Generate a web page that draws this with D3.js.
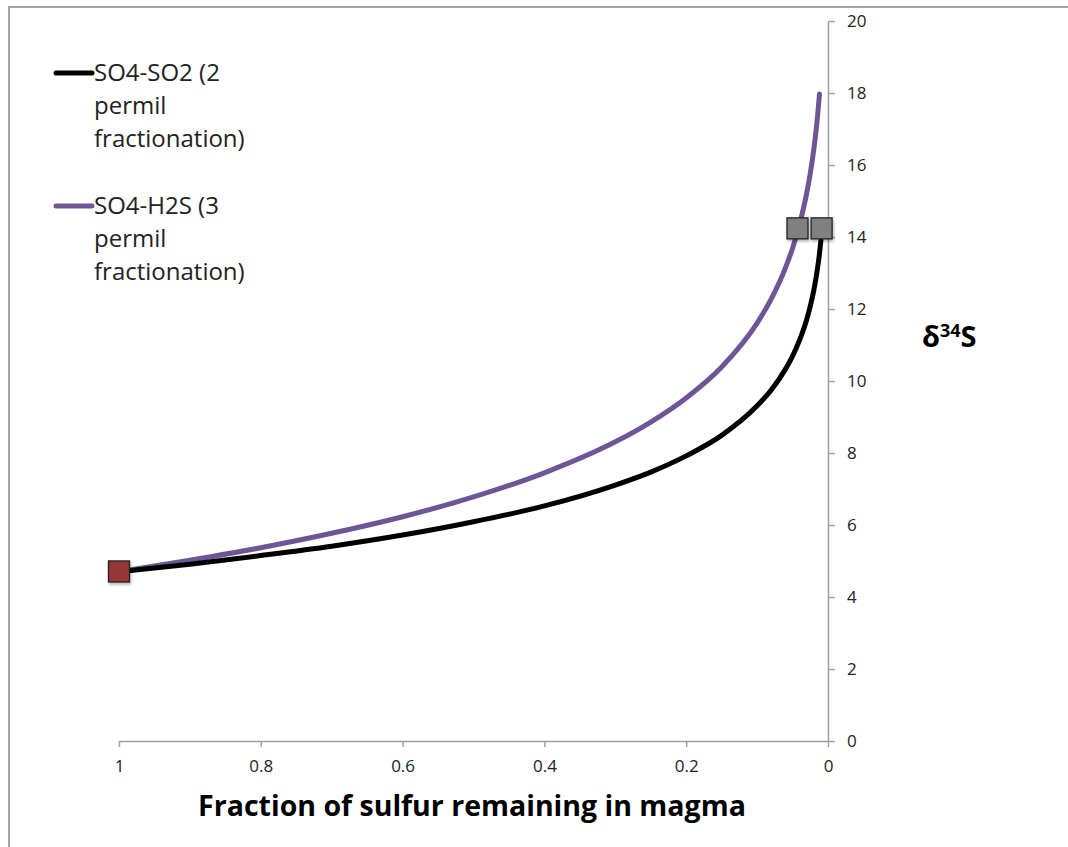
<!DOCTYPE html>
<html><head><meta charset="utf-8">
<script src="https://cdn.jsdelivr.net/npm/d3@7"></script>
<style>body{margin:0;background:#fff}svg{display:block}</style>
</head><body><svg id="c" width="1068" height="847"></svg>
<script>
// Fraction of sulfur remaining in magma (x) and delta34S (y)
const fractions = [1, 0.9, 0.8, 0.7, 0.6, 0.5, 0.4, 0.3, 0.25, 0.2, 0.15, 0.1, 0.08, 0.06, 0.05, 0.04, 0.03, 0.025, 0.02, 0.015, 0.012, 0.01];
const so4so2 = [4.70, 4.91, 5.15, 5.41, 5.72, 6.09, 6.53, 7.11, 7.47, 7.92, 8.49, 9.31, 9.75, 10.33, 10.69, 11.14, 11.71, 12.08, 12.52, 13.10, 13.54, 13.91];
const so4h2s = [4.70, 5.02, 5.37, 5.77, 6.23, 6.78, 7.45, 8.31, 8.86, 9.53, 10.39, 11.61, 12.28, 13.14, 13.69, 14.36, 15.22, 15.77, 16.44, 17.30, 17.97, null];
const seriesNames = ["SO4-SO2 (2 permil fractionation)", "SO4-H2S (3 permil fractionation)"];
const legendLines = [["SO4-SO2 (2", "permil", "fractionation)"], ["SO4-H2S (3", "permil", "fractionation)"]];
const grayMarkersX = [0.043, 0.009];
const grayMarkersY = [14.24, 14.24];
const redMarkerX = [1];
const redMarkerY = [4.71];
const xTicks = [1, 0.8, 0.6, 0.4, 0.2, 0];
const yTicks = [0, 2, 4, 6, 8, 10, 12, 14, 16, 18, 20];

const svg = d3.select("#c");
const font = "'Open Sans', Lato, sans-serif";

// outer border (top & left)
svg.append("path").attr("d", "M9,847 V7 H1068").attr("fill", "none").attr("stroke", "#a6a6a6").attr("stroke-width", 2);

const x = d3.scaleLinear().domain([1, 0]).range([119, 828]);
const y = d3.scaleLinear().domain([0, 20]).range([741, 21]);

// x axis
const xa = svg.append("g").attr("transform", "translate(0,741)")
  .call(d3.axisBottom(x).tickValues(xTicks).tickFormat(d => String(d)).tickSizeInner(6).tickSizeOuter(0).tickPadding(13));
xa.select(".domain").attr("stroke", "#a0a0a0").attr("stroke-width", 1.5);
xa.selectAll(".tick line").attr("stroke", "#a0a0a0").attr("stroke-width", 1.5);
xa.selectAll("text").attr("font-family", font).attr("font-size", 17).attr("fill", "#222");

// y axis on right
const ya = svg.append("g").attr("transform", "translate(828,0)")
  .call(d3.axisRight(y).tickValues(yTicks).tickSizeInner(7).tickSizeOuter(0).tickPadding(12));
ya.select(".domain").attr("stroke", "#a0a0a0").attr("stroke-width", 1.5);
ya.selectAll(".tick line").attr("stroke", "#a0a0a0").attr("stroke-width", 1.5);
ya.selectAll("text").attr("font-family", font).attr("font-size", 17).attr("fill", "#222");

// axis titles
svg.append("text").attr("x", 472).attr("y", 816).attr("text-anchor", "middle")
  .attr("font-family", font).attr("font-weight", "bold").attr("font-size", 28.5).attr("fill", "#000")
  .text("Fraction of sulfur remaining in magma");
const yt = svg.append("text").attr("x", 922).attr("y", 347)
  .attr("font-family", font).attr("font-weight", "bold").attr("font-size", 29).attr("fill", "#000");
yt.append("tspan").text("δ");
yt.append("tspan").attr("font-size", 18).attr("dy", -10).text("34");
yt.append("tspan").attr("dy", 10).text("S");

// lines
const colors = ["#000000", "#6e5696"];
const series = [so4so2, so4h2s];
const line = d3.line().defined(d => d[1] != null).x(d => x(d[0])).y(d => y(d[1])).curve(d3.curveMonotoneX);
[1, 0].forEach(i => {
  svg.append("path").datum(fractions.map((f, k) => [f, series[i][k]]))
    .attr("d", line).attr("fill", "none").attr("stroke", colors[i]).attr("stroke-width", 5)
    .attr("stroke-linecap", "round").attr("stroke-linejoin", "round");
});

// markers
const defs = svg.append("defs");
const flt = defs.append("filter").attr("id", "sh").attr("x", "-50%").attr("y", "-50%").attr("width", "200%").attr("height", "200%");
flt.append("feDropShadow").attr("dx", 1).attr("dy", 2).attr("stdDeviation", 1.5).attr("flood-color", "#000").attr("flood-opacity", 0.3);
const ms = 21;
function markers(xs, ys, fill) {
  svg.append("g").selectAll("rect").data(xs.map((v, i) => [v, ys[i]])).join("rect")
    .attr("x", d => x(d[0]) - ms / 2).attr("y", d => y(d[1]) - ms / 2)
    .attr("width", ms).attr("height", ms).attr("fill", fill)
    .attr("stroke", "#222").attr("stroke-width", 1.3).attr("filter", "url(#sh)");
}
markers(grayMarkersX, grayMarkersY, "#808080");
markers(redMarkerX, redMarkerY, "#953735");

// legend
const legY = [73, 206];
legendLines.forEach((lines, i) => {
  svg.append("line").attr("x1", 56).attr("x2", 92).attr("y1", legY[i]).attr("y2", legY[i])
    .attr("stroke", colors[i]).attr("stroke-width", 5).attr("stroke-linecap", "round");
  lines.forEach((t, j) => {
    svg.append("text").attr("x", 94).attr("y", legY[i] + 8 + j * 33)
      .attr("font-family", font).attr("font-size", 24).attr("fill", "#222").text(t);
  });
});
</script></body></html>
